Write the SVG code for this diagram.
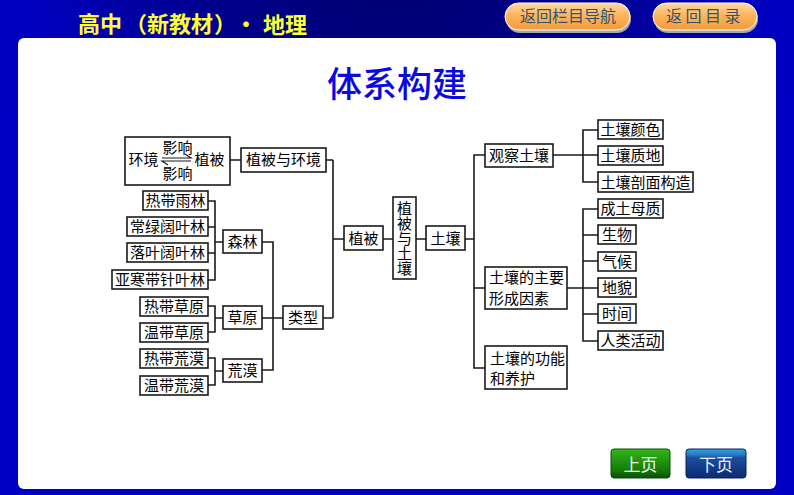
<svg xmlns="http://www.w3.org/2000/svg" width="794" height="495" viewBox="0 0 794 495">
<defs>
<radialGradient id="bg" gradientUnits="userSpaceOnUse" cx="397" cy="-60" r="470"><stop offset="0" stop-color="#00006a"/><stop offset="0.4" stop-color="#00008a"/><stop offset="0.8" stop-color="#0000c0"/><stop offset="1" stop-color="#0000c4"/></radialGradient>
<linearGradient id="or" x1="0" y1="0" x2="0" y2="1"><stop offset="0" stop-color="#fdd9a0"/><stop offset="0.45" stop-color="#fbb55f"/><stop offset="1" stop-color="#f59a36"/></linearGradient>
<linearGradient id="gr" x1="0" y1="0" x2="0" y2="1"><stop offset="0" stop-color="#33b81c"/><stop offset="0.2" stop-color="#2aa513"/><stop offset="0.75" stop-color="#137a08"/><stop offset="1" stop-color="#0a4d08"/></linearGradient>
<linearGradient id="bl" x1="0" y1="0" x2="0" y2="1"><stop offset="0" stop-color="#2fa4e6"/><stop offset="0.2" stop-color="#2a78c2"/><stop offset="0.3" stop-color="#1c4f9e"/><stop offset="1" stop-color="#0c2a70"/></linearGradient>
</defs>
<style>
text{font-family:"Noto Sans CJK SC","Liberation Sans",sans-serif}
.b{fill:#fff;stroke:#1a1a1a;stroke-width:1.6}
.t{font-size:15px;fill:#000;text-anchor:middle}
.l{font-size:15px;fill:#000}
.v{font-size:15px;fill:#000;writing-mode:vertical-rl;text-orientation:upright}
.c{fill:none;stroke:#1a1a1a;stroke-width:1.6}
.h{font-size:22px;fill:#ffff33;font-weight:700}
.n{font-size:16px;fill:#35536f;text-anchor:middle}
.p{font-size:17px;fill:#eef;text-anchor:middle}
</style>
<rect width="794" height="495" fill="#0000b0"/>
<rect width="794" height="495" fill="url(#bg)"/>
<rect x="18" y="38" width="758" height="451" rx="6" fill="#fff"/>
<g id="header">
<text class="h" x="78" y="32">高中</text>
<text class="h" x="125" y="32">（</text>
<text class="h" x="147" y="32">新教材</text>
<text class="h" x="214" y="32">）</text>
<text class="h" x="235" y="32">·</text>
<text class="h" x="263" y="33">地理</text>
</g>
<g id="nav-section"><rect x="506" y="5" width="125" height="28" rx="14" fill="#a8a8a8"/><rect x="505" y="3" width="125" height="27" rx="13.500" fill="url(#or)" stroke="#fff" stroke-width="1"/><text class="n" x="568" y="22">返回栏目导航</text></g>
<g id="nav-contents"><rect x="654" y="5" width="104" height="28" rx="14" fill="#a8a8a8"/><rect x="653" y="3" width="104" height="27" rx="13.500" fill="url(#or)" stroke="#fff" stroke-width="1"/><text class="n" x="666" y="22" letter-spacing="3.500" style="text-anchor:start">返回目录</text></g>
<text id="title" x="397" y="97" font-size="35" font-weight="500" fill="#0a0ae0" text-anchor="middle">体系构建</text>
<g id="connectors">
<path class="c" d="M230 160H241M326 160H333M333 160V318M323 318H333M333 239H344M383 239H393M416 239H426M465 239H474"/>
<path class="c" d="M208 201H215V280H208M208 227H215M208 253H215M215 242H223M262 242H273V370H262M262 318H283"/>
<path class="c" d="M208 306H215V332H208M215 318H223M208 358H215V385H208M215 371H223"/>
<path class="c" d="M485 155H474V368H485M474 288H485"/>
<path class="c" d="M553 155H598M598 130H583V182H598"/>
<path class="c" d="M598 209H583V341H598M583 235H598M583 261H598M567 288H598M583 314H598"/>
</g>
<g id="n-env-plant"><rect class="b" x="125" y="137" width="105" height="48"/><text class="t" x="143.500" y="165">环境</text><text class="t" x="209.500" y="165">植被</text><text class="t" x="177.500" y="153">影响</text><text class="t" x="177.500" y="179">影响</text><path fill="none" stroke="#1a1a1a" stroke-width="1.200" d="M162 158H191L185 154M191 161H162L168 165"/></g>
<g id="n-plant-env"><rect class="b" x="241" y="148" width="85" height="24"/><text class="t" x="283.500" y="165">植被与环境</text></g>
<g id="n-rain"><rect class="b" x="143" y="191" width="65" height="19"/><text class="t" x="175.500" y="206">热带雨林</text></g>
<g id="n-ever"><rect class="b" x="127" y="217" width="81" height="19"/><text class="t" x="167.500" y="232">常绿阔叶林</text></g>
<g id="n-decid"><rect class="b" x="127" y="243" width="81" height="19"/><text class="t" x="167.500" y="258">落叶阔叶林</text></g>
<g id="n-conif"><rect class="b" x="112" y="270" width="96" height="19"/><text class="t" x="160" y="285">亚寒带针叶林</text></g>
<g id="n-forest"><rect class="b" x="223" y="230" width="39" height="23"/><text class="t" x="242.500" y="247">森林</text></g>
<g id="n-tg"><rect class="b" x="140" y="297" width="68" height="19"/><text class="t" x="174" y="312">热带草原</text></g>
<g id="n-wg"><rect class="b" x="140" y="323" width="68" height="19"/><text class="t" x="174" y="338">温带草原</text></g>
<g id="n-td"><rect class="b" x="140" y="349" width="68" height="19"/><text class="t" x="174" y="364">热带荒漠</text></g>
<g id="n-wd"><rect class="b" x="140" y="376" width="68" height="19"/><text class="t" x="174" y="391">温带荒漠</text></g>
<g id="n-grass"><rect class="b" x="223" y="306" width="39" height="23"/><text class="t" x="242.500" y="323">草原</text></g>
<g id="n-desert"><rect class="b" x="223" y="359" width="39" height="23"/><text class="t" x="242.500" y="376">荒漠</text></g>
<g id="n-type"><rect class="b" x="283" y="306" width="40" height="23"/><text class="t" x="303" y="323">类型</text></g>
<g id="n-plant"><rect class="b" x="344" y="226" width="39" height="24"/><text class="t" x="363.500" y="244">植被</text></g>
<g id="n-root"><rect class="b" x="393" y="197" width="23" height="82"/><text class="v" x="404.500" y="201">植被与土壤</text></g>
<g id="n-soil"><rect class="b" x="426" y="226" width="39" height="24"/><text class="t" x="445.500" y="244">土壤</text></g>
<g id="n-obs"><rect class="b" x="485" y="144" width="68" height="23"/><text class="t" x="519" y="161">观察土壤</text></g>
<g id="n-factors"><rect class="b" x="485" y="267" width="82" height="42"/><text class="l" x="489" y="283">土壤的主要</text><text class="l" x="489" y="304">形成因素</text></g>
<g id="n-func"><rect class="b" x="485" y="346" width="82" height="43"/><text class="l" x="490" y="364">土壤的功能</text><text class="l" x="490" y="384">和养护</text></g>
<g id="n-color"><rect class="b" x="598" y="120" width="65" height="19"/><text class="t" x="630.500" y="135">土壤颜色</text></g>
<g id="n-tex"><rect class="b" x="598" y="146" width="65" height="19"/><text class="t" x="630.500" y="161">土壤质地</text></g>
<g id="n-prof"><rect class="b" x="598" y="172" width="95" height="20"/><text class="t" x="645.500" y="188">土壤剖面构造</text></g>
<g id="n-parent"><rect class="b" x="598" y="199" width="65" height="19"/><text class="t" x="630.500" y="214">成土母质</text></g>
<g id="n-bio"><rect class="b" x="598" y="225" width="38" height="19"/><text class="t" x="617" y="240">生物</text></g>
<g id="n-clim"><rect class="b" x="598" y="252" width="38" height="19"/><text class="t" x="617" y="267">气候</text></g>
<g id="n-land"><rect class="b" x="598" y="278" width="38" height="19"/><text class="t" x="617" y="293">地貌</text></g>
<g id="n-time"><rect class="b" x="598" y="304" width="38" height="19"/><text class="t" x="617" y="319">时间</text></g>
<g id="n-human"><rect class="b" x="598" y="331" width="65" height="19"/><text class="t" x="630.500" y="346">人类活动</text></g>
<g id="btn-prev"><rect x="611" y="449" width="59" height="29" rx="3" fill="url(#gr)" stroke="#0a4a10"/><text class="p" x="640.500" y="471">上页</text></g>
<g id="btn-next"><rect x="686" y="449" width="60" height="29" rx="3" fill="url(#bl)" stroke="#0a2060"/><text class="p" x="716" y="471">下页</text></g>
</svg>
